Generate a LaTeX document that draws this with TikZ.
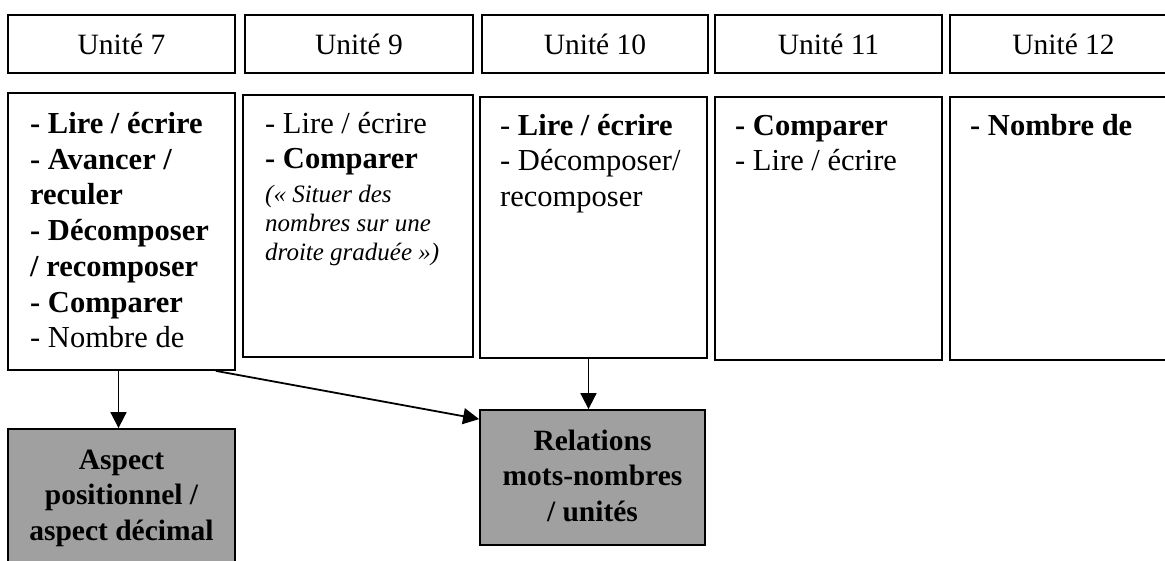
\documentclass[tikz,border=0pt]{standalone}
\usepackage{fontspec}
\setmainfont{Liberation Serif}
\usetikzlibrary{arrows.meta,calc}
\definecolor{greyfill}{RGB}{160,160,160}
\begin{document}
\begin{tikzpicture}[x=1pt,y=-1pt,
  frame/.style={draw=black,line width=1.8pt,rectangle,inner sep=0pt},
  head/.style={frame,font=\fontsize{29.5}{34}\selectfont},
  txt/.style={inner sep=0pt,align=left,anchor=north west,font=\fontsize{30.5}{35.8}\selectfont},
  itxt/.style={inner sep=0pt,align=left,anchor=north west,font=\fontsize{25}{29}\selectfont\itshape},
  greybox/.style={frame,fill=greyfill},
  gtxt/.style={inner sep=0pt,align=center,anchor=north,font=\fontsize{29.5}{35.5}\selectfont\bfseries},
  arr/.style={line width=1.8pt,-{Triangle[length=16pt,width=16pt]}}]
\useasboundingbox (0,0) rectangle (1165,561);

% headers
\node[head, minimum width=227pt, minimum height=58pt] (h7)  at (121.5,44) {Unité 7};
\node[head, minimum width=228pt, minimum height=58pt] (h9)  at (359,44)   {Unité 9};
\node[head, minimum width=226pt, minimum height=58pt] (h10) at (595,44)   {Unité 10};
\node[head, minimum width=227pt, minimum height=58pt] (h11) at (828.5,44) {Unité 11};
\node[head, minimum width=227pt, minimum height=58pt] (h12) at (1063.5,44) {Unité 12};

% content boxes
\node[frame, minimum width=227pt, minimum height=277pt] (b7)  at (121.5,231.5) {};
\node[frame, minimum width=230pt, minimum height=262pt] (b9)  at (358,226) {};
\node[frame, minimum width=227pt, minimum height=261pt] (b10) at (593.5,227.5) {};
\node[frame, minimum width=227pt, minimum height=263pt] (b11) at (828.5,228.5) {};
\node[frame, minimum width=227pt, minimum height=263pt] (b12) at (1063.5,228.5) {};

% texts in content boxes
\node[txt] (t7) at (30,93) {\rule{0pt}{40pt}\textbf{- Lire / écrire}\\\textbf{- Avancer /}\\\textbf{reculer}\\\textbf{- Décomposer}\\\textbf{/ recomposer}\\\textbf{- Comparer}\\- Nombre de};
\node[txt] (t9) at (265,95) {\rule{0pt}{38pt}- Lire / écrire\\\textbf{- Comparer}};
\node[itxt] (t9i) at (265,180) {\rule{0pt}{22pt}(« Situer des\\nombres sur une\\droite graduée »)};
\node[txt] (t10) at (500,97) {\rule{0pt}{38pt}- \textbf{Lire / écrire}\\- Décomposer/\\recomposer};
\node[txt] (t11) at (735,97) {\rule{0pt}{38pt}\textbf{- Comparer}\\- Lire / écrire};
\node[txt] (t12) at (970,97) {\rule{0pt}{38pt}\textbf{- Nombre de}};

% grey boxes
\node[greybox, minimum width=227pt, minimum height=171pt] (aspect) at (121.5,514.5) {};
\node[greybox, minimum width=225pt, minimum height=135pt] (rel) at (592.5,477.5) {};
\node[gtxt] (ta) at (aspect.north) {\rule{0pt}{41pt}Aspect\\positionnel /\\aspect décimal};
\node[gtxt] (tr) at (rel.north) {\rule{0pt}{41pt}Relations\\mots-nombres\\/ unités};

% arrows
\coordinate (s1) at ($(b7.south)+(-3,0)$);
\coordinate (s2) at ($(b7.south east)+(-20,0)$);
\coordinate (e2) at ($(rel.north west)+(0,10)$);
\coordinate (s3) at ($(b10.south)+(-5,0)$);
\draw[arr] (s1) -- (s1 |- aspect.north);
\draw[arr] (s2) -- (e2);
\draw[arr] (s3) -- (s3 |- rel.north);
\end{tikzpicture}
\end{document}
